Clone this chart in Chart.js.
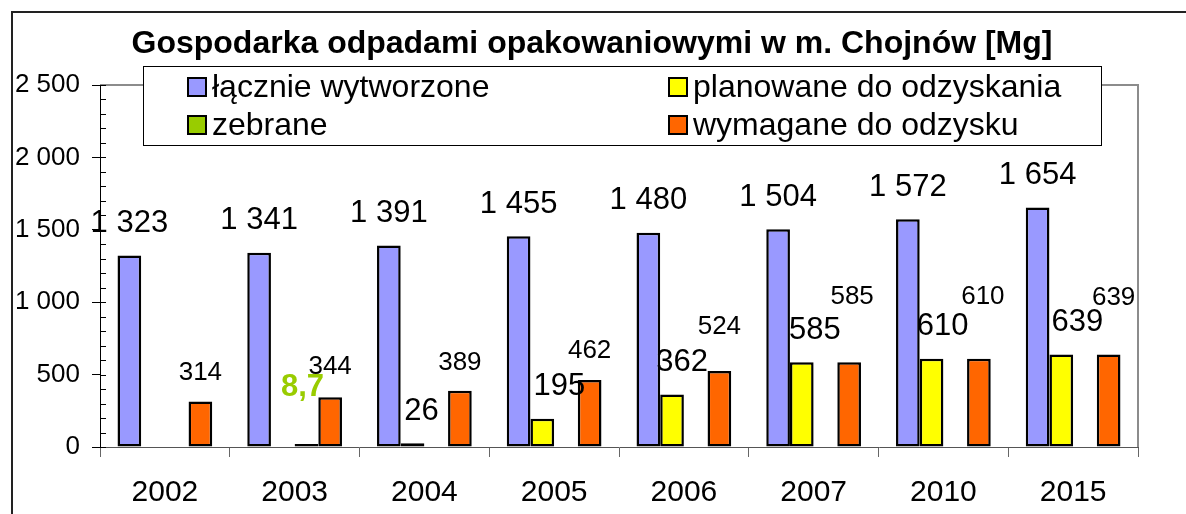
<!DOCTYPE html>
<html>
<head>
<meta charset="utf-8">
<script src="https://cdn.jsdelivr.net/npm/chart.js@4.4.1/dist/chart.umd.min.js"></script>
<style>
  body { margin: 0; background: #fff; }
  #wrap { width: 1186px; height: 514px; }
</style>
</head>
<body>
<div id="wrap"><canvas id="chart" width="1186" height="514"></canvas></div>
<script>
// dane [Mg]
const chartTitle = 'Gospodarka odpadami opakowaniowymi w m. Chojnów [Mg]';
const years = ['2002', '2003', '2004', '2005', '2006', '2007', '2010', '2015'];
const totalWaste = [1323, 1341, 1391, 1455, 1480, 1504, 1572, 1654];
const plannedRecovery = [null, null, 26, 195, 362, 585, 610, 639];
const collected = [null, 8.7, null, null, null, null, null, null];
const requiredRecovery = [314, 344, 389, 462, 524, 585, 610, 639];
const yTicks = [0, 500, 1000, 1500, 2000, 2500];

// label nudges (px) as placed in the original sheet
const plannedLabelDx = [0, 0, 9, 17, 10, 13, 11, 16];
const requiredLabelLift = [29, 30, 28, 29, 44, 65, 62, 57];
const requiredLabelDx = [0, 0, 0, 0, 0, 3, 4, 5];

const FONT = "'Liberation Sans', Arial, sans-serif";

function fmt(v) {
  const s = String(v).replace('.', ',');
  const parts = s.split(',');
  parts[0] = parts[0].replace(/\B(?=(\d{3})+(?!\d))/g, ' ');
  return parts.join(',');
}

const labelStyle = [
  { font: `31px ${FONT}`, color: '#000', dx: () => 0, lift: () => 32 },
  { font: `31px ${FONT}`, color: '#000', dx: i => plannedLabelDx[i], lift: () => 32 },
  { font: `bold 31px ${FONT}`, color: '#99CC00', dx: () => -4, lift: () => 57 },
  { font: `26px ${FONT}`, color: '#000', dx: i => requiredLabelDx[i], lift: i => requiredLabelLift[i] }
];

// frame, gray top/right lines and minor ticks on value axis
const framePlugin = {
  id: 'frame',
  beforeDatasetsDraw(chart) {
    const { ctx, chartArea } = chart;
    const y = chart.scales.y;
    ctx.save();
    ctx.strokeStyle = '#222';
    ctx.lineWidth = 2;
    ctx.beginPath();
    ctx.moveTo(1186, 12);
    ctx.lineTo(12, 12);
    ctx.lineTo(12, 514);
    ctx.stroke();

    ctx.strokeStyle = '#8c8c8c';
    ctx.lineWidth = 2;
    ctx.beginPath();
    ctx.moveTo(chartArea.left, chartArea.top);
    ctx.lineTo(chartArea.right, chartArea.top);
    ctx.lineTo(chartArea.right, chartArea.bottom);
    ctx.stroke();

    ctx.strokeStyle = '#000';
    ctx.lineWidth = 1;
    ctx.beginPath();
    for (let v = 0; v <= 2500; v += 100) {
      const py = Math.round(y.getPixelForValue(v)) + 0.5;
      ctx.moveTo(chartArea.left, py);
      ctx.lineTo(chartArea.left + 6, py);
    }
    ctx.stroke();
    ctx.restore();
  },
  afterDatasetsDraw(chart) {
    const { ctx } = chart;
    ctx.save();
    ctx.textAlign = 'center';
    ctx.textBaseline = 'middle';
    chart.data.datasets.forEach((ds, di) => {
      const meta = chart.getDatasetMeta(di);
      const st = labelStyle[di];
      meta.data.forEach((bar, i) => {
        const v = ds.data[i];
        if (v === null || v === undefined) return;
        ctx.font = st.font;
        ctx.fillStyle = st.color;
        ctx.fillText(fmt(v), bar.x + st.dx(i), bar.y - st.lift(i));
      });
    });
    ctx.restore();
  },
  afterDraw(chart) {
    const { ctx } = chart;
    ctx.save();
    // title
    ctx.font = `bold 32px ${FONT}`;
    ctx.fillStyle = '#000';
    ctx.textAlign = 'center';
    ctx.textBaseline = 'middle';
    ctx.fillText(chartTitle, 592, 44);

    // legend box, two columns, overlapping the plot like the original
    const box = { x: 143.5, y: 66.5, w: 958, h: 79 };
    const cols = [187, 668];
    const rows = [87, 125];
    ctx.fillStyle = '#fff';
    ctx.fillRect(box.x, box.y, box.w, box.h);
    ctx.strokeStyle = '#000';
    ctx.lineWidth = 1;
    ctx.strokeRect(box.x, box.y, box.w, box.h);
    ctx.font = `32px ${FONT}`;
    ctx.textAlign = 'left';
    chart.data.datasets.forEach((ds, i) => {
      const x = cols[i % 2];
      const y = rows[Math.floor(i / 2)];
      ctx.fillStyle = ds.backgroundColor;
      ctx.fillRect(x, y - 10, 20, 20);
      ctx.lineWidth = 2;
      ctx.strokeStyle = '#000';
      ctx.strokeRect(x + 1, y - 9, 18, 18);
      ctx.fillStyle = '#000';
      ctx.fillText(ds.label, x + 25, y + 1);
    });
    ctx.restore();
  }
};

const barStyle = { borderColor: '#000', borderWidth: 2.5, borderSkipped: false, categoryPercentage: 0.73, barPercentage: 1 };

new Chart(document.getElementById('chart').getContext('2d'), {
  type: 'bar',
  data: {
    labels: years,
    datasets: [
      { label: 'łącznie wytworzone', data: totalWaste, backgroundColor: '#9999FF', ...barStyle },
      { label: 'planowane do odzyskania', data: plannedRecovery, backgroundColor: '#FFFF00', ...barStyle },
      { label: 'zebrane', data: collected, backgroundColor: '#99CC00', ...barStyle, minBarLength: 3 },
      { label: 'wymagane do odzysku', data: requiredRecovery, backgroundColor: '#FF6600', ...barStyle }
    ]
  },
  options: {
    responsive: false,
    animation: false,
    layout: { padding: { left: 0, right: 48, top: 85, bottom: 0 } },
    plugins: {
      legend: { display: false },
      tooltip: { enabled: false },
      title: { display: false }
    },
    scales: {
      x: {
        grid: { offset: true, drawOnChartArea: false, drawTicks: true, tickLength: 10, color: '#666' },
        border: { display: true, color: '#555', width: 1 },
        ticks: { color: '#000', font: { family: FONT, size: 30 }, padding: 18 },
        afterFit: s => { s.height = 67; }
      },
      y: {
        min: 0,
        max: 2500,
        afterBuildTicks: s => { s.ticks = yTicks.map(v => ({ value: v })); },
        grid: { drawOnChartArea: false, drawTicks: true, tickLength: 8, color: '#000' },
        border: { display: true, color: '#000', width: 1 },
        ticks: { color: '#000', font: { family: FONT, size: 26 }, padding: 12, callback: v => fmt(v) },
        afterFit: s => { s.width = 100; }
      }
    }
  },
  plugins: [framePlugin]
});
</script>
</body>
</html>
